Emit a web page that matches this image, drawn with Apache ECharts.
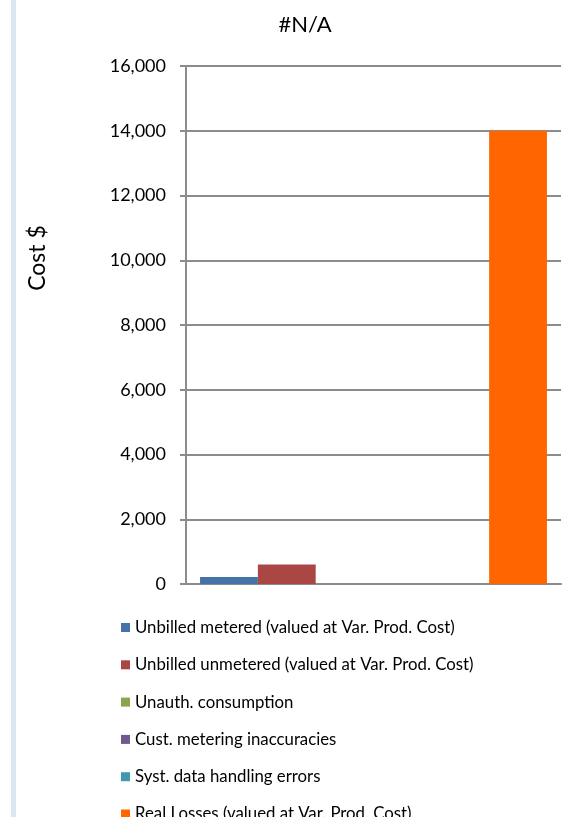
<!DOCTYPE html>
<html>
<head>
<meta charset="utf-8">
<script src="https://cdn.jsdelivr.net/npm/echarts@6/dist/echarts.min.js"></script>
<style>
html,body{margin:0;padding:0;background:#fff;}
#chart{width:573px;height:817px;}
</style>
</head>
<body>
<div id="chart"></div>
<script>
const categories = [''];
const seriesNames = [
  'Unbilled metered (valued at Var. Prod. Cost)',
  'Unbilled unmetered (valued at Var. Prod. Cost)',
  'Unauth. consumption',
  'Cust. metering inaccuracies',
  'Syst. data handling errors',
  'Real Losses (valued at Var. Prod. Cost)'
];
const unbilledMetered = [220];
const unbilledUnmetered = [600];
const unauthConsumption = [0];
const custMetering = [0];
const systDataErrors = [0];
const realLosses = [14000];
const colors = ['#4572a7', '#aa4643', '#89a54e', '#71588f', '#4198af', '#ff6600'];

const values = [unbilledMetered, unbilledUnmetered, unauthConsumption, custMetering, systDataErrors, realLosses];

const chart = echarts.init(document.getElementById('chart'), null, {renderer: 'canvas'});
const font = 'Lato, "Open Sans", sans-serif';
chart.setOption({
  animation: false,
  color: colors,
  textStyle: {fontFamily: font},
  title: {
    text: '#N/A',
    left: 300,
    textAlign: 'center',
    top: 9,
    textStyle: {fontFamily: font, fontSize: 22, fontWeight: 'normal', color: '#000'}
  },
  graphic: [{
    type: 'rect',
    shape: {x: 11, y: 0, width: 5, height: 817},
    style: {fill: '#dce6f2'},
    silent: true
  }, {
    type: 'text',
    x: 38,
    y: 258,
    rotation: Math.PI / 2,
    style: {
      text: 'Cost $',
      fontFamily: font,
      fontSize: 23,
      fill: '#000',
      textAlign: 'center',
      textVerticalAlign: 'middle'
    },
    silent: true
  }],
  grid: {left: 186, right: 12, top: 66, bottom: 233},
  legend: {
    orient: 'vertical',
    left: 121,
    top: 619,
    height: 400,
    padding: 0,
    icon: 'rect',
    itemWidth: 9,
    itemHeight: 9,
    itemGap: 20.3,
    textStyle: {fontFamily: font, fontSize: 16.8, color: '#000', lineHeight: 16},
    data: seriesNames
  },
  xAxis: {
    type: 'category',
    data: categories,
    axisLine: {show: true, lineStyle: {color: '#8c8c8c', width: 2}},
    axisTick: {show: false},
    axisLabel: {show: false}
  },
  yAxis: {
    type: 'value',
    min: 0,
    max: 16000,
    interval: 2000,
    axisLine: {show: true, lineStyle: {color: '#8c8c8c', width: 2}},
    axisTick: {show: true, length: 6, lineStyle: {color: '#8c8c8c', width: 2}},
    axisLabel: {
      fontFamily: font, fontSize: 18, color: '#000', margin: 20,
      formatter: v => v.toLocaleString('en-US')
    },
    splitLine: {show: true, lineStyle: {color: '#8c8c8c', width: 2}}
  },
  series: seriesNames.map((n, i) => ({
    name: n,
    type: 'bar',
    data: values[i],
    barGap: '0%',
    barCategoryGap: '7.5%',
    itemStyle: {color: colors[i]}
  }))
});
</script>
</body>
</html>
